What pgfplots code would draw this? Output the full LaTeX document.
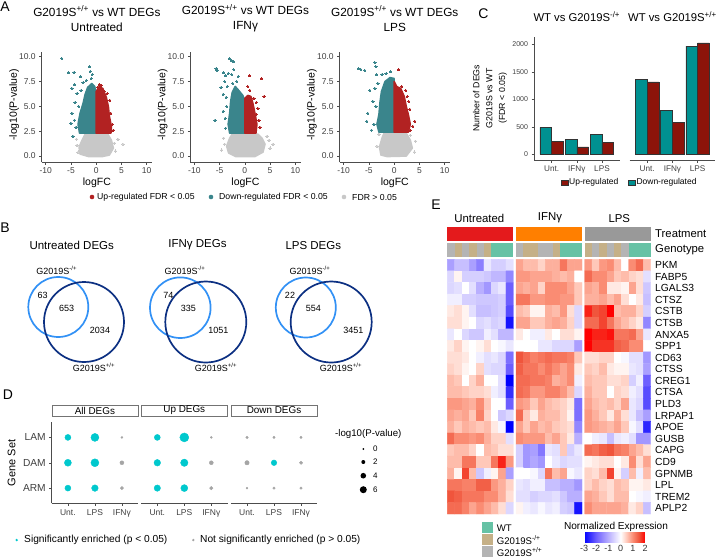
\documentclass[border=0pt]{standalone}
\usepackage{fontspec}
\setmainfont{Liberation Sans}
\usepackage{pgfplots}
\pgfplotsset{compat=1.18}
\usetikzlibrary{calc}
\newcommand{\fs}[1]{\fontsize{#1}{#1}\selectfont}
\definecolor{vred}{RGB}{178,34,34}
\definecolor{vteal}{RGB}{58,133,140}
\definecolor{vgray}{RGB}{200,200,200}
\definecolor{vlight}{RGB}{50,145,245}
\definecolor{vdark}{RGB}{12,48,130}
\definecolor{cteal}{RGB}{0,145,145}
\definecolor{cred}{RGB}{140,20,10}
\definecolor{dteal}{RGB}{0,200,205}
\definecolor{dgray}{RGB}{165,165,165}
\definecolor{tUnt}{RGB}{228,26,28}
\definecolor{tIFN}{RGB}{255,127,0}
\definecolor{tLPS}{RGB}{153,153,153}
\definecolor{gWT}{RGB}{102,194,165}
\definecolor{gHet}{RGB}{197,176,135}
\definecolor{gHom}{RGB}{180,180,180}
\pgfplotsset{
  gg/.style={scale only axis, axis line style={-,draw=black!70, line width=0.5pt},
    tick style={draw=black!70, line width=0.5pt}, tick align=outside, major tick length=2.5pt,
    ticklabel style={font=\fs{8.5}, text=black!75}, label style={font=\fs{10.5}}},
  volc/.style={gg, width=110.3pt, height=110pt, xmin=-10.8, xmax=11.05, ymin=-0.6, ymax=10.47,
    axis x line*=bottom, axis y line*=left, xtick={-10,-5,0,5,10}, xticklabels={-10,-5,0,5,10},
    ytick={0,2.5,5,7.5,10}, yticklabels={0.0,2.5,5.0,7.5,10.0},
    xlabel={logFC}, ylabel={-log10(P-value)},
    xlabel style={at={(axis description cs:0.5,-0.185)}, anchor=center},
    ylabel style={at={(axis description cs:-0.25,0.52)}, anchor=center},
    title style={at={(axis description cs:0.5,1.25)}, anchor=center, align=center, font=\fontsize{11.8}{15}\selectfont}},
  vpts/.style={only marks, mark=*, mark size=1.1pt, color=#1, mark options={fill=#1, draw=#1, line width=0pt}},
  vpoly/.style={fill=#1, draw=#1, line width=1.6pt, line join=round},
  cbar/.style={gg, width=85.6pt, height=123.3pt, xmin=0.3, xmax=3.7, ymin=-104, ymax=2140,
    axis x line*=bottom, ybar=0pt, bar width=11.7pt, xtick={1,2,3}, xticklabels={Unt.,IFNγ,LPS},
    xticklabel style={font=\fs{8.2}}, yticklabel style={font=\fs{7}},
    title style={at={(axis description cs:0.5,1.11)}, anchor=center, font=\fs{11.3}}},
  dfac/.style={gg, width=86.4pt, height=81.1pt, xmin=0.4, xmax=3.6, ymin=0.4, ymax=3.6,
    axis x line*=bottom, xtick={1,2,3}, xticklabels={Unt.,LPS,IFNγ}, xticklabel style={font=\fs{8.5}},
    title style={at={(axis description cs:0.5,1)}, anchor=south, draw=black!55, fill=white,
      minimum width=86.4pt, minimum height=11pt, inner sep=0pt, font=\fs{9.9}}},
  dots/.style={scatter, only marks, mark=*, point meta=\thisrow{r},
    scatter/use mapped color={draw=#1, fill=#1},
    visualization depends on={\thisrow{r}\as\dsz},
    scatter/@pre marker code/.append style={/tikz/mark size=\dsz pt}},
  hmrow/.style={matrix plot*, mesh/cols=9, point meta=explicit},
}
\begin{document}
\begin{tikzpicture}[x=1pt,y=1pt]
\useasboundingbox (0,0) rectangle (720,-558);
% ---------------- Panel A -----------------
\node[font=\fs{14}] at (5,-7) {A};
\begin{axis}[volc, at={(41.7pt,-162pt)}, anchor=south west,
  title={G2019S\textsuperscript{+/+} vs WT DEGs\\Untreated}]
\addplot[vpoly=vgray] coordinates {(-3.2,0.2) (-3.4,0.9) (-2.8,1.6) (-2.2,2.2) (2.3,2.2) (3.0,1.6) (3.4,0.8) (2.6,0.1) (1.2,-0.05) (-1.5,-0.05)} -- cycle;
\addplot[vpts=vgray] coordinates {(5.3,1.2) (4.3,1.7) (-3.9,1.7) (3.8,0.5) (-3.6,0.4) (3.6,1.3) (-3.8,1.1)};
\addplot[vpoly=vteal] coordinates {(0,2.3) (-3.3,2.3) (-3.6,3.2) (-3.2,4.3) (-2.6,5.3) (-2.2,6.2) (-1.7,6.9) (-0.9,7.3) (-0.3,7.0) (0,6.3)} -- cycle;
\addplot[vpts=vteal] coordinates {(-6.8,9.8) (-5.5,8.4) (-4.4,8.4) (-3.1,8.0) (-1.3,9.0) (-1.2,8.5) (-0.8,8.2) (-1.0,7.8) (-4.3,7.2) (-4.8,6.8) (-3.8,6.3) (-3.0,6.6) (-4.2,5.4) (-4.8,4.3) (-4.3,3.6) (-5.0,3.3) (-4.0,2.9) (-4.6,2.0) (-2.6,7.4) (-2.0,7.6) (-3.5,5.0)};
\addplot[vpoly=vred] coordinates {(0,2.3) (2.9,2.3) (3.0,3.0) (2.6,4.0) (2.4,5.0) (2.0,5.9) (1.3,6.8) (0.6,7.0) (0,6.5)} -- cycle;
\addplot[vpts=vred] coordinates {(1.0,7.1) (0.6,7.2) (1.6,6.5) (2.7,5.6) (3.2,3.2) (3.4,2.6) (3.0,2.5) (2.9,4.3) (2.2,6.3) (0.3,6.9)};
\end{axis}
\begin{axis}[volc, at={(190.3pt,-162pt)}, anchor=south west,
  title={G2019S\textsuperscript{+/+} vs WT DEGs\\IFNγ}]
\addplot[vpoly=vgray] coordinates {(-3.2,0.3) (-3.6,1.0) (-3.0,1.8) (-2.5,2.2) (2.6,2.2) (3.4,1.8) (4.0,1.2) (3.6,0.4) (2.0,-0.05) (-1.8,-0.05)} -- cycle;
\addplot[vpts=vgray] coordinates {(4.8,1.6) (-4.2,1.8) (-4.6,0.6) (5.0,0.8) (4.4,2.0) (-4.0,1.2) (5.6,1.2)};
\addplot[vpoly=vteal] coordinates {(0,2.3) (-3.0,2.3) (-3.3,3.2) (-3.0,4.3) (-2.8,5.5) (-2.5,6.4) (-1.9,7.0) (-1.2,6.6) (-0.4,6.1) (0,5.6)} -- cycle;
\addplot[vpts=vteal] coordinates {(-3.0,9.8) (-2.6,9.6) (-2.2,9.5) (-5.7,8.8) (-5.5,8.6) (-4.2,8.4) (-3.8,8.1) (-3.3,8.3) (-2.6,8.2) (-2.2,8.7) (-1.3,8.0) (-1.6,7.5) (-4.0,7.5) (-3.5,7.0) (-4.7,6.9) (-4.3,6.2) (-3.7,5.9) (-3.6,5.0) (-4.3,4.5) (-3.9,3.8) (-5.9,3.6) (-3.8,2.8) (-2.4,7.3)};
\addplot[vpoly=vred] coordinates {(0,2.3) (2.2,2.3) (2.4,3.2) (2.0,4.3) (1.6,5.3) (1.2,6.0) (0.6,6.1) (0,5.8)} -- cycle;
\addplot[vpts=vred] coordinates {(0.9,8.1) (3.3,7.8) (3.8,6.0) (0.6,7.0) (1.0,6.6) (2.3,5.4) (2.6,4.8) (2.8,3.6) (3.0,2.9) (1.8,5.8) (2.3,4.2)};
\end{axis}
\begin{axis}[volc, at={(339.6pt,-162pt)}, anchor=south west,
  title={G2019S\textsuperscript{+/+} vs WT DEGs\\LPS}]
\addplot[vpoly=vgray] coordinates {(-2.6,0.1) (-2.9,0.9) (-2.4,1.8) (-2.0,2.3) (2.4,2.3) (3.2,1.6) (3.6,0.8) (2.4,0.0) (-1.4,-0.05)} -- cycle;
\addplot[vpts=vgray] coordinates {(4.2,1.5) (4.0,0.4) (-3.4,1.0) (3.2,2.1) (-3.0,2.2)};
\addplot[vpoly=vteal] coordinates {(0,2.4) (-3.0,2.4) (-3.4,3.2) (-3.0,4.2) (-2.8,5.4) (-2.5,6.5) (-1.8,7.5) (-0.8,7.9) (0,7.8)} -- cycle;
\addplot[vpts=vteal] coordinates {(-7.1,8.8) (-6.6,8.7) (-5.8,8.6) (-3.8,9.4) (-3.6,9.0) (-4.8,6.6) (-5.2,4.3) (-5.4,3.5) (-4.2,5.5) (-3.8,6.8) (-3.2,7.3) (-2.4,8.2) (-1.6,8.3) (-0.7,8.5) (-4.0,3.2) (-4.5,2.6) (-3.6,5.0) (-3.5,8.2)};
\addplot[vpoly=vred] coordinates {(0,2.4) (2.8,2.4) (3.2,3.2) (2.8,4.2) (2.4,5.0) (2.0,6.0) (1.3,6.8) (0.5,7.0) (0,7.5)} -- cycle;
\addplot[vpts=vred] coordinates {(0.9,8.7) (1.5,7.0) (2.3,6.6) (2.9,5.5) (3.1,4.7) (4.1,3.5) (3.7,3.0) (3.2,2.6) (2.6,6.0)};
\end{axis}
% legend A
\fill[vred] (92,-197) circle (2.3);
\node[anchor=west, font=\fs{8.7}, inner sep=0pt] at (97,-197) {Up-regulated FDR < 0.05};
\fill[vteal] (211,-197) circle (2.3);
\node[anchor=west, font=\fs{8.7}, inner sep=0pt] at (219,-197) {Down-regulated FDR < 0.05};
\fill[vgray] (344,-197) circle (2.3);
\node[anchor=west, font=\fs{8.7}, inner sep=0pt] at (352,-197) {FDR > 0.05};
% ---------------- Panel B -----------------
\node[font=\fs{14}] at (5,-228) {B};
\begin{axis}[scale only axis, hide axis, at={(0pt,-380pt)}, anchor=south west, width=380pt, height=150pt,
  xmin=0, xmax=380, ymin=-380, ymax=-230, clip=false]
\draw[vlight, line width=1.7pt] (axis cs:58.3,-307) circle[radius=30];
\draw[vdark, line width=1.7pt] (axis cs:84,-322) circle[radius=40];
\draw[vlight, line width=1.7pt] (axis cs:180.3,-307.7) circle[radius=30.3];
\draw[vdark, line width=1.7pt] (axis cs:205.8,-322) circle[radius=40.5];
\draw[vlight, line width=1.7pt] (axis cs:305.8,-307.5) circle[radius=30];
\draw[vdark, line width=1.7pt] (axis cs:331.2,-322) circle[radius=40.5];
\end{axis}
\node[font=\fs{11.5}] at (71.7,-245.7) {Untreated DEGs};
\node[font=\fs{11.5}] at (197.5,-244.5) {IFNγ DEGs};
\node[font=\fs{11.5}] at (313.3,-245.7) {LPS DEGs};
\foreach \cx in {56.7,185,310}{\node[font=\fs{9}] at (\cx,-270.7) {G2019S\textsuperscript{-/+}};}
\foreach \cx in {94,216,341}{\node[font=\fs{9}] at (\cx,-367) {G2019S\textsuperscript{+/+}};}
\node[font=\fs{9}] at (42.7,-295.7) {63};
\node[font=\fs{9}] at (66.7,-308.3) {653};
\node[font=\fs{9}] at (100,-330) {2034};
\node[font=\fs{9}] at (168.3,-295.7) {74};
\node[font=\fs{9}] at (188.3,-308.3) {335};
\node[font=\fs{9}] at (218.3,-330) {1051};
\node[font=\fs{9}] at (290,-295.7) {22};
\node[font=\fs{9}] at (313.3,-308.3) {554};
\node[font=\fs{9}] at (353.3,-330) {3451};
% ---------------- Panel C -----------------
\node[font=\fs{14}] at (483.3,-13.3) {C};
\begin{axis}[cbar, at={(534pt,-160pt)}, anchor=south west, axis y line*=left,
  ytick={0,500,1000,1500,2000}, yticklabels={0,500,1000,1500,2000},
  ylabel={Number of DEGs\\G2019S vs WT\\(FDR < 0.05)},
  ylabel style={align=center, font=\fontsize{8.8}{12.8}\selectfont, at={(axis description cs:-0.514,0.5)}, anchor=center},
  title={WT vs G2019S\textsuperscript{-/+}}]
\addplot[fill=cteal, draw=black!80, line width=0.5pt] coordinates {(1,491) (2,278) (3,369)};
\addplot[fill=cred, draw=black!80, line width=0.5pt] coordinates {(1,229) (2,133) (3,211)};
\end{axis}
\begin{axis}[cbar, at={(629.6pt,-160pt)}, anchor=south west, axis y line=none,
  title={WT vs G2019S\textsuperscript{+/+}}]
\addplot[fill=cteal, draw=black!80, line width=0.5pt] coordinates {(1,1369) (2,800) (3,1969)};
\addplot[fill=cred, draw=black!80, line width=0.5pt] coordinates {(1,1320) (2,582) (3,2029)};
\end{axis}
\filldraw[fill=cred, draw=black!80, line width=0.4pt] (561,-180.2) rectangle (568.3,-185.2);
\node[anchor=west, font=\fs{8.5}, inner sep=0pt] at (569,-182.7) {Up-regulated};
\filldraw[fill=cteal, draw=black!80, line width=0.4pt] (628.3,-180.2) rectangle (635.6,-185.2);
\node[anchor=west, font=\fs{8.5}, inner sep=0pt] at (636.3,-182.7) {Down-regulated};
% ---------------- Panel D -----------------
\node[font=\fs{14}] at (8,-395) {D};
\begin{axis}[dfac, at={(51.7pt,-503.3pt)}, anchor=south west, axis y line*=left,
  ytick={1,2,3}, yticklabels={ARM,DAM,LAM}, yticklabel style={font=\fs{10.2}},
  ylabel={Gene Set}, ylabel style={font=\fs{11}, at={(axis description cs:-0.463,0.5)}, anchor=center},
  title={All DEGs}]
\addplot[dots=dteal] table {
x y r
1 3 3.0
2 3 4.0
1 2 3.5
2 2 4.0
1 1 3.0
2 1 3.3
};
\addplot[dots=dgray] table {
x y r
3 3 1.0
3 2 2.0
3 1 1.7
};
\end{axis}
\begin{axis}[dfac, at={(141.1pt,-503.3pt)}, anchor=south west, axis y line=none, title={Up DEGs}]
\addplot[dots=dteal] table {
x y r
1 3 3.0
2 3 4.5
1 2 3.3
2 2 3.7
1 1 3.2
2 1 3.5
};
\addplot[dots=dgray] table {
x y r
3 3 1.0
3 2 2.0
3 1 1.7
};
\end{axis}
\begin{axis}[dfac, at={(230.8pt,-503.3pt)}, anchor=south west, axis y line=none, title={Down DEGs}]
\addplot[dots=dteal] table {
x y r
2 2 2.8
};
\addplot[dots=dgray] table {
x y r
1 3 1.3
2 3 1.2
3 3 1.2
1 2 2.2
3 2 1.7
1 1 0.9
2 1 1.3
3 1 1.3
};
\end{axis}
% size legend
\node[font=\fs{9.7}] at (368.3,-434.3) {-log10(P-value)};
\fill (363.3,-449) circle (1.0); \node[anchor=west, font=\fs{8}, inner sep=0pt] at (373,-449) {0};
\fill (363.3,-462) circle (2.0); \node[anchor=west, font=\fs{8}, inner sep=0pt] at (373,-462) {2};
\fill (363.3,-475.7) circle (2.8); \node[anchor=west, font=\fs{8}, inner sep=0pt] at (373,-475.7) {4};
\fill (363.3,-489.7) circle (3.5); \node[anchor=west, font=\fs{8}, inner sep=0pt] at (373,-489.7) {6};
% colour legend
\fill[dteal] (16.7,-540) circle (1.3);
\node[anchor=west, font=\fs{10.2}, inner sep=0pt] at (24,-540) {Significantly enriched (p < 0.05)};
\fill[dgray] (193.3,-540) circle (1.3);
\node[anchor=west, font=\fs{10.2}, inner sep=0pt] at (200,-540) {Not significantly enriched (p > 0.05)};
% ---------------- Panel E -----------------
\node[font=\fs{14}] at (436,-205) {E};
\begin{axis}[scale only axis, at={(447.3pt,-514pt)}, anchor=south west, width=203.4pt, height=287.3pt,
  xmin=-0.5, xmax=27.24, ymin=-3.315, ymax=21.5, y dir=reverse, axis line style={draw=none},
  xtick=\empty, ytick={-2.71,-1.33,0,1,2,3,4,5,6,7,8,9,10,11,12,13,14,15,16,17,18,19,20,21},
  yticklabels={{\fs{11.3}Treatment},{\fs{11.3}Genotype},PKM,FABP5,LGALS3,CTSZ,CSTB,CTSB,ANXA5,SPP1,CD63,CTSS,CREG1,CTSA,PLD3,LRPAP1,APOE,GUSB,CAPG,CD9,GPNMB,LPL,TREM2,APLP2},
  yticklabel pos=right, major tick length=0pt, yticklabel style={anchor=west, font=\fs{10.3}, xshift=1pt},
  colormap={hm}{rgb255(0)=(0,0,255) rgb255(2)=(110,95,255) rgb255(4)=(185,175,255) rgb255(6)=(255,255,255) rgb255(7)=(255,200,185) rgb255(8)=(250,140,115) rgb255(9)=(240,85,60) rgb255(10)=(255,0,0)},
  point meta min=-3, point meta max=2,
  colorbar horizontal,
  colorbar style={at={($(parent axis.south west)+(136.7pt,-9.5pt)$)}, anchor=north west,
    width=61pt, height=10pt, scale only axis, axis line style={draw=none}, major tick length=0pt,
    xtick={-3,-2,-1,0,1,2}, xticklabels={-3,-2,-1,0,1,2}, xticklabel style={font=\fs{9}, text=black!80}},
  clip=false]
\addplot[hmrow] table[row sep=\\, x expr={mod(\coordindex,9)}, y expr={floor((\coordindex+0.5)/9)}, meta=v] {
v\\
-1.2\\ -0.8\\ -0.8\\ -1.2\\ -1.6\\ -0.3\\ -0.6\\ -0.6\\ -0.4\\
-0.5\\ 0.1\\ -0.6\\ -0.6\\ -0.6\\ -0.7\\ -0.9\\ -0.9\\ -1.5\\
-0.5\\ -0.4\\ 0.0\\ -0.4\\ -1.0\\ -1.3\\ -0.5\\ -0.3\\ -2.0\\
-0.2\\ -0.2\\ -0.6\\ -0.6\\ -0.7\\ -0.7\\ -0.7\\ -0.6\\ -2.0\\
0.2\\ 0.3\\ 0.1\\ -0.4\\ -0.8\\ -0.8\\ -0.7\\ -0.6\\ -2.2\\
0.3\\ 0.3\\ 0.1\\ 0.0\\ -0.5\\ -0.4\\ -0.6\\ -0.5\\ -2.8\\
-0.3\\ 0.0\\ -0.5\\ -0.7\\ -0.7\\ -0.2\\ -0.4\\ -0.9\\ -0.9\\
0.2\\ 0.4\\ 0.1\\ 0.0\\ 0.1\\ 0.3\\ 0.0\\ -0.1\\ -0.3\\
0.3\\ 0.3\\ 0.2\\ 0.0\\ -0.2\\ -0.4\\ -0.3\\ -0.5\\ -1.8\\
0.4\\ 0.3\\ 0.1\\ 0.0\\ 0.4\\ -0.4\\ -0.5\\ -0.5\\ -2.0\\
0.6\\ 0.5\\ 0.0\\ 0.4\\ 0.7\\ 0.0\\ 0.0\\ -0.4\\ -3.0\\
0.6\\ 0.6\\ 0.5\\ 0.4\\ 0.4\\ 0.3\\ -0.2\\ -0.4\\ -2.5\\
0.9\\ 0.9\\ 0.8\\ 0.7\\ 1.0\\ 0.5\\ 0.0\\ 0.0\\ -2.0\\
0.8\\ 0.7\\ 0.8\\ 0.5\\ 1.1\\ 0.4\\ 0.0\\ -0.7\\ -0.5\\
0.7\\ 0.5\\ 0.7\\ 0.6\\ 0.5\\ 0.6\\ 0.2\\ -0.1\\ -3.0\\
1.3\\ 1.0\\ 1.0\\ 0.9\\ 1.0\\ 0.7\\ 0.4\\ 0.4\\ -0.4\\
0.5\\ 0.6\\ 0.6\\ 0.4\\ 0.0\\ 0.6\\ 0.5\\ 0.3\\ 0.3\\
0.6\\ 0.6\\ 1.2\\ 1.2\\ 0.5\\ 0.5\\ 1.2\\ 1.8\\ 0.9\\
0.7\\ 0.1\\ 1.6\\ 0.6\\ -0.7\\ -0.2\\ 0.1\\ 0.8\\ -1.2\\
1.2\\ 1.2\\ 1.1\\ 1.1\\ 1.4\\ 1.4\\ 0.9\\ 0.7\\ 0.4\\
1.5\\ 1.4\\ 1.2\\ 1.2\\ 1.2\\ 1.0\\ 1.0\\ 0.7\\ 0.3\\
1.3\\ 1.3\\ 1.1\\ 0.8\\ 1.0\\ 0.8\\ 0.6\\ 0.3\\ -0.5\\
};
\addplot[hmrow] table[row sep=\\, x expr={mod(\coordindex,9)+9.37}, y expr={floor((\coordindex+0.5)/9)}, meta=v] {
v\\
0.8\\ 0.6\\ 0.6\\ 0.4\\ 0.7\\ 0.7\\ 1.2\\ 0.8\\ 0.8\\
0.9\\ 0.9\\ 0.8\\ 0.8\\ 0.8\\ 0.7\\ 0.6\\ 0.7\\ 0.0\\
0.8\\ 0.7\\ 0.8\\ 0.4\\ 1.0\\ 1.0\\ 1.0\\ 0.8\\ 0.5\\
1.2\\ 1.2\\ 0.9\\ 0.9\\ 1.0\\ 1.0\\ 0.9\\ 0.9\\ 0.5\\
0.6\\ 0.5\\ 0.1\\ 0.1\\ 0.7\\ 0.6\\ 0.9\\ 0.3\\ -0.5\\
0.8\\ 0.8\\ 0.5\\ 0.5\\ 0.7\\ 0.8\\ 0.7\\ 0.4\\ -0.5\\
0.2\\ 0.0\\ -0.2\\ -0.2\\ 0.2\\ 0.0\\ 0.3\\ 0.3\\ 0.1\\
0.0\\ 0.0\\ 0.0\\ -0.3\\ -0.3\\ -0.5\\ -0.5\\ -0.5\\ -1.2\\
1.5\\ 1.3\\ 1.1\\ 1.2\\ 1.3\\ 1.2\\ 1.2\\ 1.1\\ 0.5\\
1.4\\ 1.2\\ 1.2\\ 1.0\\ 1.2\\ 1.0\\ 0.8\\ 1.0\\ 0.2\\
1.3\\ 1.3\\ 1.2\\ 1.2\\ 1.1\\ 0.7\\ 0.8\\ 1.0\\ -0.2\\
1.3\\ 1.2\\ 0.9\\ 0.9\\ 1.1\\ 1.1\\ 0.9\\ 0.6\\ -0.5\\
0.9\\ 0.8\\ 0.5\\ 0.8\\ 0.6\\ 0.5\\ 0.4\\ 0.2\\ -1.8\\
1.3\\ 0.5\\ 0.2\\ 0.7\\ 0.6\\ 0.6\\ 0.4\\ 0.1\\ -1.8\\
0.8\\ 0.5\\ 0.8\\ 0.6\\ 0.7\\ 0.5\\ 0.4\\ 0.3\\ -1.5\\
1.0\\ 0.9\\ 0.9\\ 0.9\\ 0.6\\ 0.8\\ 0.5\\ 0.2\\ -1.0\\
-0.6\\ -1.3\\ -1.2\\ -1.7\\ -0.3\\ -0.4\\ 0.5\\ -0.6\\ -0.3\\
-0.6\\ -1.3\\ -1.1\\ -1.3\\ 0.0\\ -0.3\\ -0.5\\ -0.4\\ -0.4\\
0.0\\ 0.0\\ -0.1\\ -0.5\\ 1.2\\ 0.6\\ 0.8\\ -0.1\\ -0.3\\
-0.3\\ -0.4\\ -0.2\\ -0.2\\ -0.8\\ -0.8\\ -1.0\\ -1.0\\ -1.3\\
-0.4\\ -0.4\\ -0.6\\ -0.5\\ -0.5\\ -0.4\\ -0.7\\ -1.0\\ -1.0\\
0.1\\ -0.2\\ -0.3\\ -0.1\\ -0.3\\ -0.2\\ -0.6\\ -0.7\\ -2.8\\
};
\addplot[hmrow] table[row sep=\\, x expr={mod(\coordindex,9)+18.74}, y expr={floor((\coordindex+0.5)/9)}, meta=v] {
v\\
0.9\\ 0.5\\ 0.9\\ 1.0\\ 0.6\\ 0.0\\ 1.0\\ 1.3\\ 0.6\\
1.3\\ 1.0\\ 1.0\\ 0.8\\ 0.5\\ 0.6\\ 0.4\\ 0.3\\ -0.4\\
0.8\\ 0.7\\ 1.0\\ 0.2\\ 0.2\\ 0.1\\ 0.8\\ 0.3\\ -0.7\\
0.7\\ 0.7\\ 0.8\\ 0.6\\ 0.8\\ 0.3\\ 0.0\\ 0.2\\ -0.8\\
1.8\\ 1.5\\ 1.6\\ 2.0\\ 0.6\\ 0.7\\ 0.7\\ 0.4\\ -0.6\\
1.3\\ 1.3\\ 1.6\\ 1.2\\ 0.8\\ 0.6\\ 0.4\\ 0.2\\ -1.5\\
2.2\\ 1.8\\ 1.8\\ 1.9\\ 1.2\\ 1.2\\ 1.3\\ 0.8\\ -0.3\\
2.0\\ 1.7\\ 1.7\\ 1.7\\ 1.4\\ 1.3\\ 1.0\\ 1.0\\ 0.0\\
0.3\\ 0.3\\ 0.4\\ 0.4\\ 0.0\\ -0.1\\ -0.4\\ -0.4\\ -1.3\\
0.5\\ 0.4\\ 0.6\\ 0.2\\ 0.1\\ 0.1\\ -0.3\\ -0.4\\ -1.2\\
0.6\\ 0.5\\ 0.5\\ 0.3\\ 0.3\\ 0.4\\ -0.6\\ -0.2\\ -2.0\\
0.7\\ 0.5\\ 0.5\\ 0.0\\ 0.4\\ 0.3\\ -0.2\\ -0.4\\ -2.2\\
0.8\\ 0.6\\ 0.5\\ 0.6\\ 0.4\\ 0.8\\ -0.3\\ -0.5\\ -2.2\\
0.9\\ 0.7\\ 0.5\\ 0.2\\ 0.7\\ 0.3\\ -0.3\\ -0.8\\ -1.2\\
0.9\\ 0.8\\ 0.7\\ 0.6\\ 0.8\\ 0.5\\ -0.1\\ -0.4\\ -2.6\\
0.0\\ -0.2\\ -0.3\\ -0.8\\ -0.3\\ -0.2\\ -0.4\\ -1.3\\ -1.3\\
1.3\\ 1.2\\ 1.4\\ 1.5\\ 1.2\\ 1.1\\ 0.8\\ 0.6\\ 0.3\\
0.1\\ 0.2\\ 0.3\\ 0.3\\ 0.0\\ 0.2\\ 1.0\\ 0.3\\ 0.8\\
0.4\\ 0.3\\ 0.6\\ 1.6\\ 0.1\\ -0.6\\ 0.6\\ -0.2\\ 0.6\\
0.4\\ 0.6\\ 0.4\\ 0.3\\ 0.6\\ 0.5\\ 0.1\\ 0.1\\ 0.2\\
0.8\\ 0.7\\ 0.5\\ 0.3\\ 0.6\\ 0.6\\ 0.0\\ -0.1\\ -0.2\\
1.0\\ 0.8\\ 0.8\\ 0.8\\ 0.8\\ 0.7\\ 0.2\\ 0.4\\ -0.8\\
};
% treatment bar
\addplot[fill=tUnt, draw=none] coordinates {(-0.5,-3.315) (8.5,-3.315) (8.5,-2.106) (-0.5,-2.106)} -- cycle;
\addplot[fill=tIFN, draw=none] coordinates {(8.87,-3.315) (17.87,-3.315) (17.87,-2.106) (8.87,-2.106)} -- cycle;
\addplot[fill=tLPS, draw=none] coordinates {(18.24,-3.315) (27.24,-3.315) (27.24,-2.106) (18.24,-2.106)} -- cycle;
% genotype bar
\addplot[fill=gHom, draw=none] coordinates {(-0.5,-1.933) (0.5,-1.933) (0.5,-0.725) (-0.5,-0.725)} -- cycle;
\addplot[fill=gHet, draw=none] coordinates {(0.5,-1.933) (1.5,-1.933) (1.5,-0.725) (0.5,-0.725)} -- cycle;
\addplot[fill=gHom, draw=none] coordinates {(1.5,-1.933) (2.5,-1.933) (2.5,-0.725) (1.5,-0.725)} -- cycle;
\addplot[fill=gHet, draw=none] coordinates {(2.5,-1.933) (3.5,-1.933) (3.5,-0.725) (2.5,-0.725)} -- cycle;
\addplot[fill=gHom, draw=none] coordinates {(3.5,-1.933) (4.5,-1.933) (4.5,-0.725) (3.5,-0.725)} -- cycle;
\addplot[fill=gHet, draw=none] coordinates {(4.5,-1.933) (5.5,-1.933) (5.5,-0.725) (4.5,-0.725)} -- cycle;
\addplot[fill=gWT, draw=none] coordinates {(5.5,-1.933) (8.5,-1.933) (8.5,-0.725) (5.5,-0.725)} -- cycle;
\addplot[fill=gHom, draw=none] coordinates {(8.87,-1.933) (9.87,-1.933) (9.87,-0.725) (8.87,-0.725)} -- cycle;
\addplot[fill=gHet, draw=none] coordinates {(9.87,-1.933) (11.87,-1.933) (11.87,-0.725) (9.87,-0.725)} -- cycle;
\addplot[fill=gHom, draw=none] coordinates {(11.87,-1.933) (13.87,-1.933) (13.87,-0.725) (11.87,-0.725)} -- cycle;
\addplot[fill=gHet, draw=none] coordinates {(13.87,-1.933) (14.87,-1.933) (14.87,-0.725) (13.87,-0.725)} -- cycle;
\addplot[fill=gWT, draw=none] coordinates {(14.87,-1.933) (17.87,-1.933) (17.87,-0.725) (14.87,-0.725)} -- cycle;
\addplot[fill=gHet, draw=none] coordinates {(18.24,-1.933) (19.24,-1.933) (19.24,-0.725) (18.24,-0.725)} -- cycle;
\addplot[fill=gHom, draw=none] coordinates {(19.24,-1.933) (20.24,-1.933) (20.24,-0.725) (19.24,-0.725)} -- cycle;
\addplot[fill=gHet, draw=none] coordinates {(20.24,-1.933) (21.24,-1.933) (21.24,-0.725) (20.24,-0.725)} -- cycle;
\addplot[fill=gHom, draw=none] coordinates {(21.24,-1.933) (22.24,-1.933) (22.24,-0.725) (21.24,-0.725)} -- cycle;
\addplot[fill=gHet, draw=none] coordinates {(22.24,-1.933) (23.24,-1.933) (23.24,-0.725) (22.24,-0.725)} -- cycle;
\addplot[fill=gHom, draw=none] coordinates {(23.24,-1.933) (24.24,-1.933) (24.24,-0.725) (23.24,-0.725)} -- cycle;
\addplot[fill=gWT, draw=none] coordinates {(24.24,-1.933) (27.24,-1.933) (27.24,-0.725) (24.24,-0.725)} -- cycle;
\end{axis}
\node[font=\fs{11.4}] at (479.3,-218.3) {Untreated};
\node[font=\fs{11.4}] at (550,-217.3) {IFNγ};
\node[font=\fs{11.4}] at (619.3,-218.3) {LPS};
\node[font=\fs{10.1}] at (616,-526.5) {Normalized Expression};
% genotype legend
\fill[gWT] (481.7,-522.2) rectangle (492.7,-533.2);
\fill[gHet] (481.7,-533.8) rectangle (492.7,-544.8);
\fill[gHom] (481.7,-546.3) rectangle (492.7,-557.3);
\node[anchor=west, font=\fs{9.6}, inner sep=0pt] at (496.7,-527.7) {WT};
\node[anchor=west, font=\fs{9.6}, inner sep=0pt] at (496.7,-539.8) {G2019S\textsuperscript{-/+}};
\node[anchor=west, font=\fs{9.6}, inner sep=0pt] at (496.7,-552.3) {G2019S\textsuperscript{+/+}};
\end{tikzpicture}
\end{document}
